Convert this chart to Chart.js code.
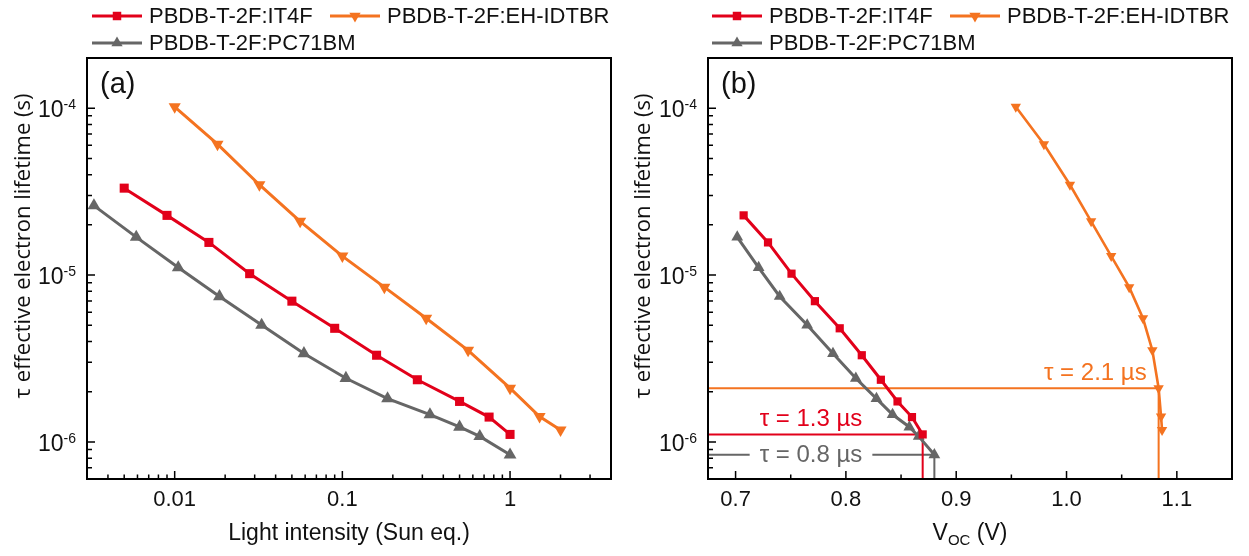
<!DOCTYPE html>
<html>
<head>
<meta charset="utf-8">
<script src="https://cdn.jsdelivr.net/npm/chart.js@4.4.1/dist/chart.umd.min.js"></script>
<style>
  html, body { margin: 0; padding: 0; background: #fff; }
  #wrap { position: relative; width: 1249px; height: 556px; overflow: hidden; }
  canvas { position: absolute; top: 0; }
  #panelA { left: 0; }
  #panelB { left: 620px; }
</style>
</head>
<body>
<div id="wrap">
  <canvas id="panelA" width="620" height="556"></canvas>
  <canvas id="panelB" width="629" height="556"></canvas>
</div>
<script>
// ---- measured data ------------------------------------------------------
// (a) light intensity (Sun eq.) vs effective electron lifetime (s)
const intensityIT4F = [0.005, 0.009, 0.016, 0.028, 0.05, 0.09, 0.16, 0.28, 0.5, 0.75, 1];
const lifetimeIT4F  = [3.32e-5, 2.28e-5, 1.57e-5, 1.02e-5, 6.98e-6, 4.80e-6, 3.31e-6, 2.36e-6, 1.75e-6, 1.41e-6, 1.11e-6];

const intensityEH = [0.01, 0.018, 0.032, 0.056, 0.1, 0.178, 0.316, 0.562, 1, 1.5, 2];
const lifetimeEH  = [1.02e-4, 6.09e-5, 3.48e-5, 2.10e-5, 1.30e-5, 8.47e-6, 5.51e-6, 3.54e-6, 2.10e-6, 1.42e-6, 1.18e-6];

const intensityPC = [0.0033, 0.0059, 0.0105, 0.0185, 0.033, 0.059, 0.105, 0.186, 0.333, 0.5, 0.66, 1];
const lifetimePC  = [2.61e-5, 1.69e-5, 1.11e-5, 7.45e-6, 5.02e-6, 3.39e-6, 2.41e-6, 1.82e-6, 1.46e-6, 1.23e-6, 1.08e-6, 8.38e-7];

// (b) open-circuit voltage (V) for the highest-intensity points of each series
const vocIT4F = [0.7073, 0.7294, 0.7507, 0.7719, 0.7944, 0.8144, 0.8317, 0.8468, 0.8599, 0.8696];
const vocEH   = [0.954, 0.9795, 1.0031, 1.0223, 1.0405, 1.0568, 1.0693, 1.0778, 1.0835, 1.0857, 1.0866];
const vocPC   = [0.7015, 0.7209, 0.7400, 0.7649, 0.7883, 0.8090, 0.8277, 0.8423, 0.8575, 0.8660, 0.8802];

const seriesNames = ['PBDB-T-2F:IT4F', 'PBDB-T-2F:EH-IDTBR', 'PBDB-T-2F:PC71BM'];
const tauLabels   = ['\u03c4 = 1.3 \u00b5s', '\u03c4 = 2.1 \u00b5s', '\u03c4 = 0.8 \u00b5s'];

// axis ticks
const intensityTickValues = [0.01, 0.1, 1];
const intensityTickLabels = ['0.01', '0.1', '1'];
const vocTickValues = [0.7, 0.8, 0.9, 1.0, 1.1];
const vocTickLabels = ['0.7', '0.8', '0.9', '1.0', '1.1'];
const lifetimeTickExponents = [-4, -5, -6];

// axis limits
const INTENSITY_MIN = 0.003, INTENSITY_MAX = 4;
const VOC_MIN = 0.675, VOC_MAX = 1.15;
const LIFETIME_MIN = 6e-7, LIFETIME_MAX = 2e-4;

// ---- styling ------------------------------------------------------------
const RED = '#e2001a', ORANGE = '#f47320', GRAY = '#666666';
const SANS = '"Liberation Sans", Arial, sans-serif';
const TITLE_FONT = '"Open Sans", "Liberation Sans", sans-serif';

const markerStyles = [
  { color: RED,    pointStyle: 'rect',     rotation: 0   },
  { color: ORANGE, pointStyle: 'triangle', rotation: 180 },
  { color: GRAY,   pointStyle: 'triangle', rotation: 0   }
];

function pairs(xs, ys) {
  // align the last xs.length lifetimes with the given x values
  const off = ys.length - xs.length;
  return xs.map((x, i) => ({ x: x, y: ys[i + off] }));
}

function seriesDataset(idx, data, radius, width) {
  const s = markerStyles[idx];
  return {
    label: seriesNames[idx],
    data: data,
    showLine: true,
    borderColor: s.color,
    backgroundColor: s.color,
    borderWidth: width,
    pointStyle: s.pointStyle,
    pointRotation: s.rotation,
    pointRadius: radius[idx],
    pointHoverRadius: radius[idx],
    pointBorderWidth: 0,
    order: 1,
    legendIndex: idx
  };
}

// 1-Sun operating point of a series in the Voc panel
function oneSunPoint(intensity, lifetime, voc) {
  const i = intensity.indexOf(1);
  const off = intensity.length - voc.length;
  return { x: voc[i - off], y: lifetime[i] };
}

function guideDataset(color, p) {
  return {
    data: [{ x: VOC_MIN, y: p.y }, { x: p.x, y: p.y }, { x: p.x, y: LIFETIME_MIN }],
    showLine: true,
    borderColor: color,
    borderWidth: 2,
    pointRadius: 0,
    pointHoverRadius: 0,
    order: 5,
    guide: true
  };
}

function logTicks(min, max) {
  const out = [];
  for (let e = Math.floor(Math.log10(min)); e <= Math.ceil(Math.log10(max)); e++) {
    for (let m = 1; m <= 9; m++) {
      const v = m * Math.pow(10, e);
      if (v >= min * 0.999 && v <= max * 1.001) out.push({ v: v, major: m === 1 });
    }
  }
  return out;
}

function vocTicks() {
  const out = [];
  for (let k = 14; k <= 23; k++) out.push({ v: k * 0.05, major: k % 2 === 0 });
  return out;
}

const legendSlots = [{ x: 92, y: 16 }, { x: 330, y: 16 }, { x: 92, y: 43 }];
const legendRadius = [6, 6.5, 6.5];

function drawLegend(chart) {
  const ctx = chart.ctx;
  chart.data.datasets.forEach(ds => {
    if (ds.guide) return;
    const slot = legendSlots[ds.legendIndex];
    const s = markerStyles[ds.legendIndex];
    ctx.strokeStyle = s.color;
    ctx.fillStyle = s.color;
    ctx.lineWidth = 3;
    ctx.beginPath();
    ctx.moveTo(slot.x, slot.y);
    ctx.lineTo(slot.x + 50, slot.y);
    ctx.stroke();
    Chart.helpers.drawPoint(ctx, { pointStyle: s.pointStyle, rotation: s.rotation, radius: legendRadius[ds.legendIndex], borderWidth: 0 }, slot.x + 25, slot.y);
    ctx.fillStyle = '#111';
    ctx.font = '22px ' + SANS;
    ctx.textAlign = 'left';
    ctx.textBaseline = 'middle';
    ctx.fillText(ds.label, slot.x + 57, slot.y + 1);
  });
}

function axesDecor(opt) {
  return {
    id: 'axesDecor',
    afterDraw(chart) {
      const ctx = chart.ctx, a = chart.chartArea;
      const xs = chart.scales.x, ys = chart.scales.y;
      ctx.save();

      // inward tick marks
      ctx.strokeStyle = '#000';
      ctx.lineWidth = 1.5;
      ctx.beginPath();
      opt.xTicks.forEach(t => {
        const px = xs.getPixelForValue(t.v);
        if (px > a.left + 1 && px < a.right - 1) {
          ctx.moveTo(px, a.bottom);
          ctx.lineTo(px, a.bottom - (t.major ? 8 : 4.5));
        }
      });
      logTicks(LIFETIME_MIN, LIFETIME_MAX).forEach(t => {
        const py = ys.getPixelForValue(t.v);
        if (py > a.top + 1 && py < a.bottom - 1) {
          ctx.moveTo(a.left, py);
          ctx.lineTo(a.left + (t.major ? 8 : 5), py);
        }
      });
      ctx.stroke();

      // frame
      ctx.lineWidth = 2;
      ctx.strokeRect(a.left, a.top, a.right - a.left, a.bottom - a.top);

      // x tick labels
      ctx.fillStyle = '#111';
      ctx.font = '22px ' + SANS;
      ctx.textAlign = 'center';
      ctx.textBaseline = 'alphabetic';
      opt.xLabelValues.forEach((v, i) => {
        ctx.fillText(opt.xLabels[i], xs.getPixelForValue(v), a.bottom + 27);
      });

      // y tick labels: 10 with superscript exponent
      lifetimeTickExponents.forEach(e => {
        const py = ys.getPixelForValue(Math.pow(10, e));
        const sup = String(e);
        ctx.font = '14px ' + SANS;
        const wSup = ctx.measureText(sup).width;
        ctx.textAlign = 'right';
        ctx.fillText(sup, a.left - 11, py + 1);
        ctx.font = '23px ' + SANS;
        ctx.fillText('10', a.left - 11 - wSup, py + 9);
      });

      // y title
      ctx.save();
      ctx.translate(23.5, 246);
      ctx.rotate(-Math.PI / 2);
      ctx.font = '22px ' + TITLE_FONT;
      ctx.textAlign = 'center';
      ctx.textBaseline = 'middle';
      ctx.fillStyle = '#111';
      ctx.fillText('\u03c4 effective electron lifetime (s)', 0, 0);
      ctx.restore();

      // x title
      opt.drawXTitle(ctx, (a.left + a.right) / 2, 540);

      // panel letter
      ctx.font = '29px ' + SANS;
      ctx.textAlign = 'left';
      ctx.textBaseline = 'alphabetic';
      ctx.fillStyle = '#111';
      ctx.fillText(opt.letter, a.left + 13, a.top + 35);

      if (opt.extra) opt.extra(chart);
      drawLegend(chart);
      ctx.restore();
    }
  };
}

function buildChart(canvas, datasets, xScale, yWidth, padRight, decor) {
  return new Chart(canvas, {
    type: 'scatter',
    data: { datasets: datasets },
    options: {
      responsive: false,
      animation: false,
      devicePixelRatio: 1,
      layout: { padding: { top: 58, right: padRight, left: 0, bottom: 0 } },
      plugins: { legend: { display: false }, tooltip: { enabled: false } },
      scales: {
        x: Object.assign({
          ticks: { display: false },
          grid: { display: false },
          border: { display: false },
          afterFit(s) { s.height = 77; }
        }, xScale),
        y: {
          type: 'logarithmic',
          min: LIFETIME_MIN,
          max: LIFETIME_MAX,
          ticks: { display: false },
          grid: { display: false },
          border: { display: false },
          afterFit(s) { s.width = yWidth; }
        }
      }
    },
    plugins: [axesDecor(decor)]
  });
}

// ---- panel (a) ----------------------------------------------------------
const radiusA = [6.4, 7, 7.4];
buildChart(document.getElementById('panelA'), [
  seriesDataset(0, pairs(intensityIT4F, lifetimeIT4F), radiusA, 3),
  seriesDataset(1, pairs(intensityEH, lifetimeEH), radiusA, 3),
  seriesDataset(2, pairs(intensityPC, lifetimePC), radiusA, 3)
], { type: 'logarithmic', min: INTENSITY_MIN, max: INTENSITY_MAX }, 87, 9, {
  letter: '(a)',
  xTicks: logTicks(INTENSITY_MIN, INTENSITY_MAX),
  xLabelValues: intensityTickValues,
  xLabels: intensityTickLabels,
  drawXTitle(ctx, cx, y) {
    ctx.font = '23px ' + SANS;
    ctx.textAlign = 'center';
    ctx.fillStyle = '#111';
    ctx.fillText('Light intensity (Sun eq.)', cx, y);
  }
});

// ---- panel (b) ----------------------------------------------------------
const radiusB = [5.8, 6, 6.8];
const sunIT4F = oneSunPoint(intensityIT4F, lifetimeIT4F, vocIT4F);
const sunEH   = oneSunPoint(intensityEH, lifetimeEH, vocEH);
const sunPC   = oneSunPoint(intensityPC, lifetimePC, vocPC);

buildChart(document.getElementById('panelB'), [
  seriesDataset(0, pairs(vocIT4F, lifetimeIT4F), radiusB, 3),
  seriesDataset(1, pairs(vocEH, lifetimeEH), radiusB, 2.6),
  seriesDataset(2, pairs(vocPC, lifetimePC), radiusB, 3),
  guideDataset(ORANGE, sunEH),
  guideDataset(RED, sunIT4F),
  guideDataset(GRAY, sunPC)
], { type: 'linear', min: VOC_MIN, max: VOC_MAX }, 88, 17, {
  letter: '(b)',
  xTicks: vocTicks(),
  xLabelValues: vocTickValues,
  xLabels: vocTickLabels,
  drawXTitle(ctx, cx, y) {
    ctx.fillStyle = '#111';
    ctx.textAlign = 'left';
    ctx.font = '23px ' + SANS;
    const wV = ctx.measureText('V').width;
    const wRest = ctx.measureText(' (V)').width;
    ctx.font = '15px ' + SANS;
    const wSub = ctx.measureText('OC').width;
    let x = cx - (wV + wSub + wRest) / 2;
    ctx.font = '23px ' + SANS;
    ctx.fillText('V', x, y);
    x += wV;
    ctx.font = '15px ' + SANS;
    ctx.fillText('OC', x, y + 5);
    x += wSub;
    ctx.font = '23px ' + SANS;
    ctx.fillText(' (V)', x, y);
  },
  extra(chart) {
    const ctx = chart.ctx, a = chart.chartArea;
    const xs = chart.scales.x, ys = chart.scales.y;
    ctx.font = '24px ' + SANS;
    ctx.textBaseline = 'alphabetic';

    // IT4F: label above its guide line
    ctx.fillStyle = RED;
    ctx.textAlign = 'center';
    ctx.fillText(tauLabels[0], a.left + 103, ys.getPixelForValue(sunIT4F.y) - 8);

    // EH-IDTBR: label right-aligned against the vertical guide
    ctx.fillStyle = ORANGE;
    ctx.textAlign = 'right';
    ctx.fillText(tauLabels[1], xs.getPixelForValue(sunEH.x) - 12, ys.getPixelForValue(sunEH.y) - 8);

    // PC71BM: label sits on its guide line
    const gy = ys.getPixelForValue(sunPC.y);
    const w = ctx.measureText(tauLabels[2]).width;
    const cx = a.left + 103;
    ctx.fillStyle = '#fff';
    ctx.fillRect(cx - w / 2 - 10, gy - 3, w + 20, 6);
    ctx.fillStyle = GRAY;
    ctx.textAlign = 'center';
    ctx.textBaseline = 'middle';
    ctx.fillText(tauLabels[2], cx, gy + 1);
  }
});
</script>
</body>
</html>
